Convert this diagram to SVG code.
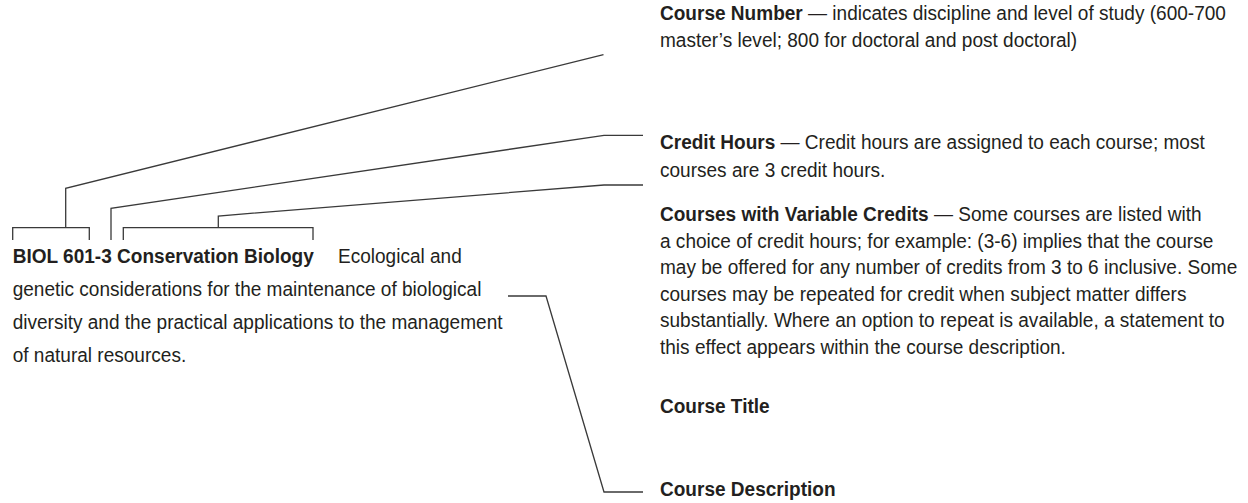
<svg xmlns="http://www.w3.org/2000/svg" width="1248" height="503" viewBox="0 0 1248 503">
<style>
.t{font-family:"Liberation Sans",Arial,sans-serif;font-size:21px;fill:#231f20}
.b{font-weight:bold}
.c{fill:none;stroke:#3a3a3a;stroke-width:1.3}
</style>
<rect width="1248" height="503" fill="#ffffff"/>
<g id="connectors">
<path class="c" d="M12.7,240 V227.7 H89.3 V240 M65.7,227.7 V188.3 L603.5,54.7"/>
<path class="c" d="M111,240 V208.3 L604,135.3 H643"/>
<path class="c" d="M123.3,240 V227.7 H313 V240 M218.3,227.7 V216 L604,185 H643"/>
<path class="c" d="M508,296 H546 L604,492 H643"/>
</g>
<g id="course-entry">
<text class="t" transform="translate(12.7,263) scale(0.907,1)"><tspan class="b">BIOL 601-3 Conservation Biology</tspan></text>
<text class="t" transform="translate(338,263) scale(0.907,1)">Ecological and</text>
<text class="t" transform="translate(12.7,296) scale(0.907,1)">genetic considerations for the maintenance of biological</text>
<text class="t" transform="translate(12.7,329) scale(0.907,1)">diversity and the practical applications to the management</text>
<text class="t" transform="translate(12.7,362) scale(0.907,1)">of natural resources.</text>
</g>
<g id="course-number">
<text class="t" transform="translate(660,20) scale(0.907,1)"><tspan class="b">Course Number</tspan> — indicates discipline and level of study (600-700</text>
<text class="t" transform="translate(660,47) scale(0.907,1)">master’s level; 800 for doctoral and post doctoral)</text>
</g>
<g id="credit-hours">
<text class="t" transform="translate(660,149) scale(0.907,1)"><tspan class="b">Credit Hours</tspan> — Credit hours are assigned to each course; most</text>
<text class="t" transform="translate(660,177) scale(0.907,1)">courses are 3 credit hours.</text>
</g>
<g id="variable-credits">
<text class="t" transform="translate(660,221) scale(0.907,1)"><tspan class="b">Courses with Variable Credits</tspan> — Some courses are listed with</text>
<text class="t" transform="translate(660,247.5) scale(0.907,1)">a choice of credit hours; for example: (3-6) implies that the course</text>
<text class="t" transform="translate(660,274) scale(0.907,1)">may be offered for any number of credits from 3 to 6 inclusive. Some</text>
<text class="t" transform="translate(660,300.5) scale(0.907,1)">courses may be repeated for credit when subject matter differs</text>
<text class="t" transform="translate(660,327) scale(0.907,1)">substantially. Where an option to repeat is available, a statement to</text>
<text class="t" transform="translate(660,353.5) scale(0.907,1)">this effect appears within the course description.</text>
</g>
<g id="course-title">
<text class="t b" transform="translate(660,413) scale(0.907,1)">Course Title</text>
</g>
<g id="course-description">
<text class="t b" transform="translate(660,496) scale(0.907,1)">Course Description</text>
</g>
</svg>
